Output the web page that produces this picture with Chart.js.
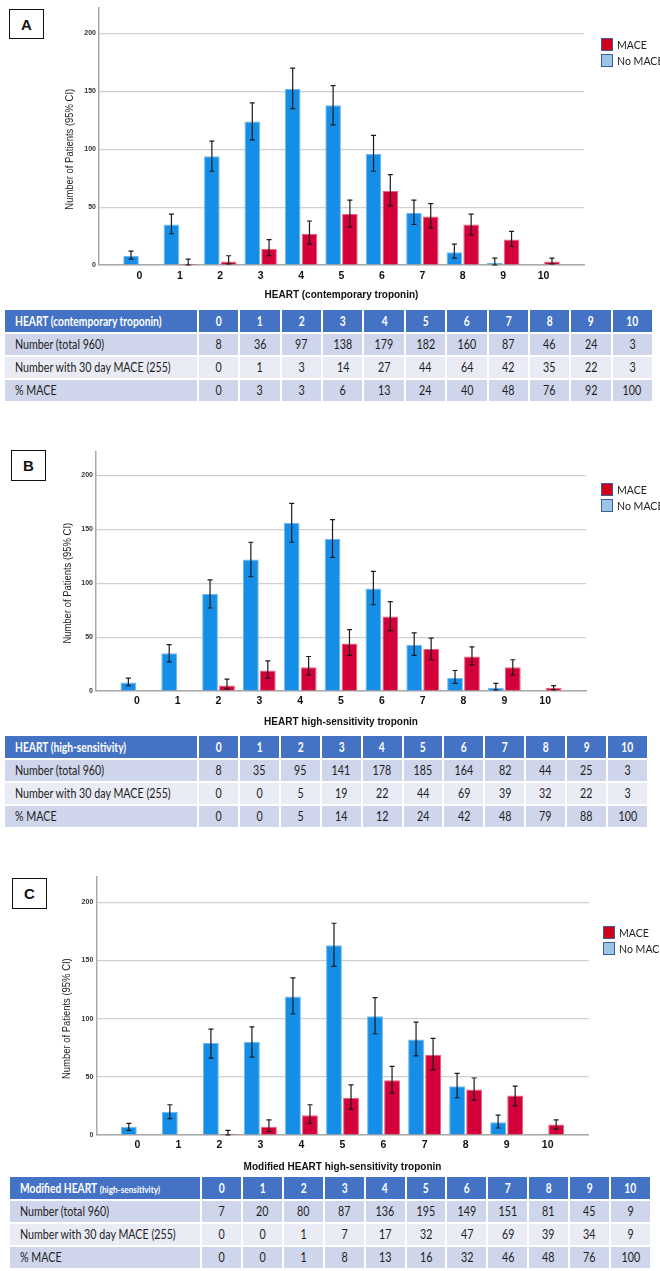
<!DOCTYPE html>
<html>
<head>
<meta charset="utf-8">
<script src="https://cdn.jsdelivr.net/npm/chart.js@4/dist/chart.umd.min.js"></script>
<style>
  html, body { margin: 0; padding: 0; background: #fff; }
  body { width: 660px; height: 1271px; position: relative; overflow: hidden; font-family: Lato, "Open Sans", sans-serif; }
  canvas.cv { position: absolute; left: 0; }
  .tag { position: absolute; box-sizing: border-box; border: 1.5px solid #111; background: #fff;
         font: bold 15px "Liberation Sans", Arial, sans-serif; color: #111;
         display: flex; align-items: center; justify-content: center; }
  .legend { position: absolute; font: 12px Lato, sans-serif; color: #222; white-space: nowrap; }
  .legend .item { position: absolute; left: 0; display: flex; align-items: center; height: 13px; }
  .legend .sw { box-sizing: border-box; width: 12px; height: 13px; border: 1.5px solid #3b5f98; margin-right: 4px; }
  .legend .lt { display: inline-block; transform: scaleX(0.88); transform-origin: left center; }
  .tbl { position: absolute; display: grid; column-gap: 2px; row-gap: 2px; }
  .tbl > div { display: flex; align-items: center; justify-content: center; font-size: 12.5px; color: #1e1e1e; overflow: visible; white-space: nowrap; }
  .tbl > div > span { display: inline-block; transform: scaleX(0.855); transform-origin: center center; }
  .tbl > div.first { justify-content: flex-start; padding-left: 10px; }
  .tbl > div.first > span { transform-origin: left center; }
  .tbl > div.head { background: #4472c4; color: #fff; font-weight: bold; }
  .tbl > div.head > span { transform: scaleX(0.82); }
  .tbl > div.r1, .tbl > div.r3 { background: #cfd5ea; }
  .tbl > div.r2 { background: #e9ebf5; }
  .small { font-size: 10px; margin-left: 3px; }
</style>
</head>
<body>
<script>
// HEART score categories shared by all three panels
const scores = ['0', '1', '2', '3', '4', '5', '6', '7', '8', '9', '10'];
const rowLabels = ['Number (total 960)', 'Number with 30 day MACE (255)', '% MACE'];

// Panel A: HEART with contemporary troponin
const noMaceA   = [8, 35, 94, 124, 152, 138, 96, 45, 11, 2, 0];
const maceA     = [0, 1, 3, 14, 27, 44, 64, 42, 35, 22, 3];
const noMaceLoA = [5, 27, 81, 108, 135, 121, 81, 35, 6, 0, null];
const noMaceHiA = [12, 44, 107, 140, 170, 155, 112, 56, 18, 6, null];
const maceLoA   = [null, 0, 1, 8, 18, 33, 51, 32, 26, 16, 1];
const maceHiA   = [null, 5, 8, 22, 38, 56, 78, 53, 44, 29, 6];
const totalA    = [8, 36, 97, 138, 179, 182, 160, 87, 46, 24, 3];
const pctA      = [0, 3, 3, 6, 13, 24, 40, 48, 76, 92, 100];

// Panel B: HEART with high-sensitivity troponin
const noMaceB   = [8, 35, 90, 122, 156, 141, 95, 43, 12, 3, 0];
const maceB     = [0, 0, 5, 19, 22, 44, 69, 39, 32, 22, 3];
const noMaceLoB = [5, 27, 77, 106, 138, 124, 80, 33, 7, 1, null];
const noMaceHiB = [12, 43, 103, 138, 174, 159, 111, 54, 19, 7, null];
const maceLoB   = [null, null, 2, 12, 15, 33, 56, 29, 24, 15, 1];
const maceHiB   = [null, null, 11, 28, 32, 57, 83, 49, 41, 29, 5];
const totalB    = [8, 35, 95, 141, 178, 185, 164, 82, 44, 25, 3];
const pctB      = [0, 0, 5, 14, 12, 24, 42, 48, 79, 88, 100];

// Panel C: modified HEART with high-sensitivity troponin
const noMaceC   = [7, 20, 79, 80, 119, 163, 102, 82, 42, 11, 0];
const maceC     = [0, 0, 1, 7, 17, 32, 47, 69, 39, 34, 9];
const noMaceLoC = [4, 14, 66, 67, 104, 145, 87, 68, 32, 6, null];
const noMaceHiC = [10, 26, 91, 93, 135, 182, 118, 97, 53, 17, null];
const maceLoC   = [null, null, 0, 3, 10, 22, 36, 56, 30, 25, 5];
const maceHiC   = [null, null, 4, 13, 26, 43, 59, 83, 49, 42, 13];
const totalC    = [7, 20, 80, 87, 136, 195, 149, 151, 81, 45, 9];
const pctC      = [0, 0, 1, 8, 13, 16, 32, 46, 48, 76, 100];

const yTicks = [0, 50, 100, 150, 200];
const BLUE = '#148ee6', RED = '#d3003a';
const BLUE_EDGE = '#6cb8f0', RED_EDGE = '#e8607f';

// one empty slot either side of the score axis
const pad = a => [null, ...a, null];

const errorBars = {
  id: 'errorBars',
  afterDatasetsDraw(chart) {
    const { ctx } = chart;
    const ys = chart.scales.y;
    chart.data.datasets.forEach((ds, i) => {
      const meta = chart.getDatasetMeta(i);
      ctx.save();
      ctx.strokeStyle = '#1b1b1b';
      ctx.lineWidth = 1.2;
      meta.data.forEach((bar, j) => {
        const lo = ds.lo[j], hi = ds.hi[j];
        if (lo == null || hi == null) return;
        const x = bar.x;
        const y1 = ys.getPixelForValue(lo), y2 = ys.getPixelForValue(hi);
        ctx.beginPath();
        ctx.moveTo(x, y1); ctx.lineTo(x, y2);
        ctx.moveTo(x - 2.5, y1); ctx.lineTo(x + 2.5, y1);
        ctx.moveTo(x - 2.5, y2); ctx.lineTo(x + 2.5, y2);
        ctx.stroke();
      });
      ctx.restore();
    });
  }
};

const yTitle = {
  id: 'yTitle',
  afterDraw(chart, args, opts) {
    const ys = chart.scales.y, ctx = chart.ctx;
    const cy = (ys.getPixelForValue(yTicks[0]) + ys.getPixelForValue(yTicks[yTicks.length - 1])) / 2;
    const cx = chart.chartArea.left - opts.offset;
    ctx.save();
    ctx.translate(cx, cy);
    ctx.rotate(-Math.PI / 2);
    ctx.scale(0.9, 1);
    ctx.font = '10.5px "Liberation Sans", Arial, sans-serif';
    ctx.fillStyle = '#222';
    ctx.textAlign = 'center';
    ctx.textBaseline = 'middle';
    ctx.fillText(opts.text, 0, 0);
    ctx.restore();
  }
};

const panels = [
  { tag: 'A', tagBox: [9, 9, 35, 30],
    canvasTop: 0, plot: { top: 8, bottom: 265, left: 99, right: 584 }, tickPad: 4.5, titlePad: 3.5, yTitleOff: 29,
    legend: [600.5, 38.3],
    xTitle: 'HEART (contemporary troponin)',
    noMace: noMaceA, mace: maceA, noMaceLo: noMaceLoA, noMaceHi: noMaceHiA, maceLo: maceLoA, maceHi: maceHiA,
    table: { left: 5, top: 310, width: 647, first: 192, head: 'HEART (contemporary troponin)', total: totalA, macen: maceA, pct: pctA } },
  { tag: 'B', tagBox: [11, 450, 35, 31],
    canvasTop: 440, plot: { top: 451.7, bottom: 691, left: 96, right: 586 }, tickPad: 4, titlePad: 2.5, yTitleOff: 28,
    legend: [600.5, 482.7],
    xTitle: 'HEART high-sensitivity troponin',
    noMace: noMaceB, mace: maceB, noMaceLo: noMaceLoB, noMaceHi: noMaceHiB, maceLo: maceLoB, maceHi: maceHiB,
    table: { left: 5, top: 736, width: 642, first: 192, head: 'HEART (high-sensitivity)', total: totalB, macen: maceB, pct: pctB } },
  { tag: 'C', tagBox: [12, 878, 35, 31],
    canvasTop: 866, plot: { top: 876.7, bottom: 1134.3, left: 96.3, right: 588.7 }, tickPad: 3.5, titlePad: 2, yTitleOff: 29,
    legend: [603.3, 926],
    xTitle: 'Modified HEART high-sensitivity troponin',
    noMace: noMaceC, mace: maceC, noMaceLo: noMaceLoC, noMaceHi: noMaceHiC, maceLo: maceLoC, maceHi: maceHiC,
    table: { left: 10, top: 1177, width: 640, first: 190, head: null, total: totalC, macen: maceC, pct: pctC } }
];

const AXIS_H = 40;

panels.forEach(p => {
  // panel letter
  const tag = document.createElement('div');
  tag.className = 'tag';
  tag.textContent = p.tag;
  Object.assign(tag.style, { left: p.tagBox[0] + 'px', top: p.tagBox[1] + 'px', width: p.tagBox[2] + 'px', height: p.tagBox[3] + 'px' });
  document.body.appendChild(tag);

  // chart canvas
  const cv = document.createElement('canvas');
  cv.className = 'cv';
  const h = Math.ceil(p.plot.bottom - p.canvasTop + AXIS_H);
  cv.width = 660; cv.height = h;
  cv.style.top = p.canvasTop + 'px';
  cv.style.width = '660px'; cv.style.height = h + 'px';
  document.body.appendChild(cv);

  const edge = ctx => (ctx.raw > 0 ? 1 : 0);
  new Chart(cv, {
    type: 'bar',
    data: {
      labels: ['', ...scores, ''],
      datasets: [
        { label: 'No MACE', data: pad(p.noMace), lo: pad(p.noMaceLo), hi: pad(p.noMaceHi),
          backgroundColor: BLUE, borderColor: BLUE_EDGE, borderWidth: edge, borderSkipped: 'start' },
        { label: 'MACE', data: pad(p.mace), lo: pad(p.maceLo), hi: pad(p.maceHi),
          backgroundColor: RED, borderColor: RED_EDGE, borderWidth: edge, borderSkipped: 'start' }
      ]
    },
    options: {
      responsive: false,
      animation: false,
      events: [],
      categoryPercentage: 0.83,
      barPercentage: 0.93,
      layout: { padding: { top: p.plot.top - p.canvasTop, right: 660 - p.plot.right, left: 0, bottom: 0 } },
      plugins: {
        legend: { display: false },
        tooltip: { enabled: false },
        yTitle: { text: 'Number of Patients (95% CI)', offset: p.yTitleOff }
      },
      scales: {
        x: {
          type: 'category',
          offset: false,
          afterFit: s => { s.height = AXIS_H; },
          grid: { display: false, drawTicks: false },
          border: { display: true, color: '#a9a9a9', width: 1.5 },
          ticks: { autoSkip: false, maxRotation: 0, padding: p.tickPad, color: '#111',
                   font: { family: '"Liberation Sans", Arial, sans-serif', size: 10.5, weight: 'bold' } },
          title: { display: true, text: p.xTitle, color: '#111', padding: { top: 0, bottom: p.titlePad },
                   font: { family: '"Liberation Sans", Arial, sans-serif', size: 10, weight: 'bold' } }
        },
        y: {
          min: 0, max: 222,
          afterFit: s => { s.width = p.plot.left; },
          afterBuildTicks: s => { s.ticks = yTicks.map(v => ({ value: v })); },
          grid: { color: '#d0d0d0', lineWidth: 1.2, drawTicks: false },
          border: { display: true, color: '#a9a9a9', width: 1.5 },
          ticks: { padding: 3, color: '#333',
                   font: { family: '"Liberation Sans", Arial, sans-serif', size: 7, weight: 'bold' } }
        }
      }
    },
    plugins: [errorBars, yTitle]
  });

  // legend
  const lg = document.createElement('div');
  lg.className = 'legend';
  lg.style.left = p.legend[0] + 'px';
  lg.style.top = p.legend[1] + 'px';
  [['MACE', '#d0021b', 0], ['No MACE', '#9dc3e6', 16]].forEach(([txt, col, dy]) => {
    const it = document.createElement('div');
    it.className = 'item';
    it.style.top = dy + 'px';
    it.innerHTML = '<span class="sw" style="background:' + col + '"></span><span class="lt">' + txt + '</span>';
    lg.appendChild(it);
  });
  document.body.appendChild(lg);

  // summary table
  const t = p.table;
  const tb = document.createElement('div');
  tb.className = 'tbl';
  Object.assign(tb.style, {
    left: t.left + 'px', top: t.top + 'px', width: t.width + 'px',
    gridTemplateColumns: t.first + 'px repeat(11, 1fr)',
    gridTemplateRows: '22px 21px 21px 21px'
  });
  const cell = (cls, html) => {
    const d = document.createElement('div');
    d.className = cls;
    d.innerHTML = '<span>' + html + '</span>';
    tb.appendChild(d);
  };
  cell('head first', t.head ? t.head : 'Modified HEART<span class="small">(high-sensitivity)</span>');
  scores.forEach(s => cell('head', s));
  [[t.total, 'r1'], [t.macen, 'r2'], [t.pct, 'r3']].forEach(([vals, cls], r) => {
    cell(cls + ' first', rowLabels[r]);
    vals.forEach(v => cell(cls, String(v)));
  });
  document.body.appendChild(tb);
});
</script>
</body>
</html>
